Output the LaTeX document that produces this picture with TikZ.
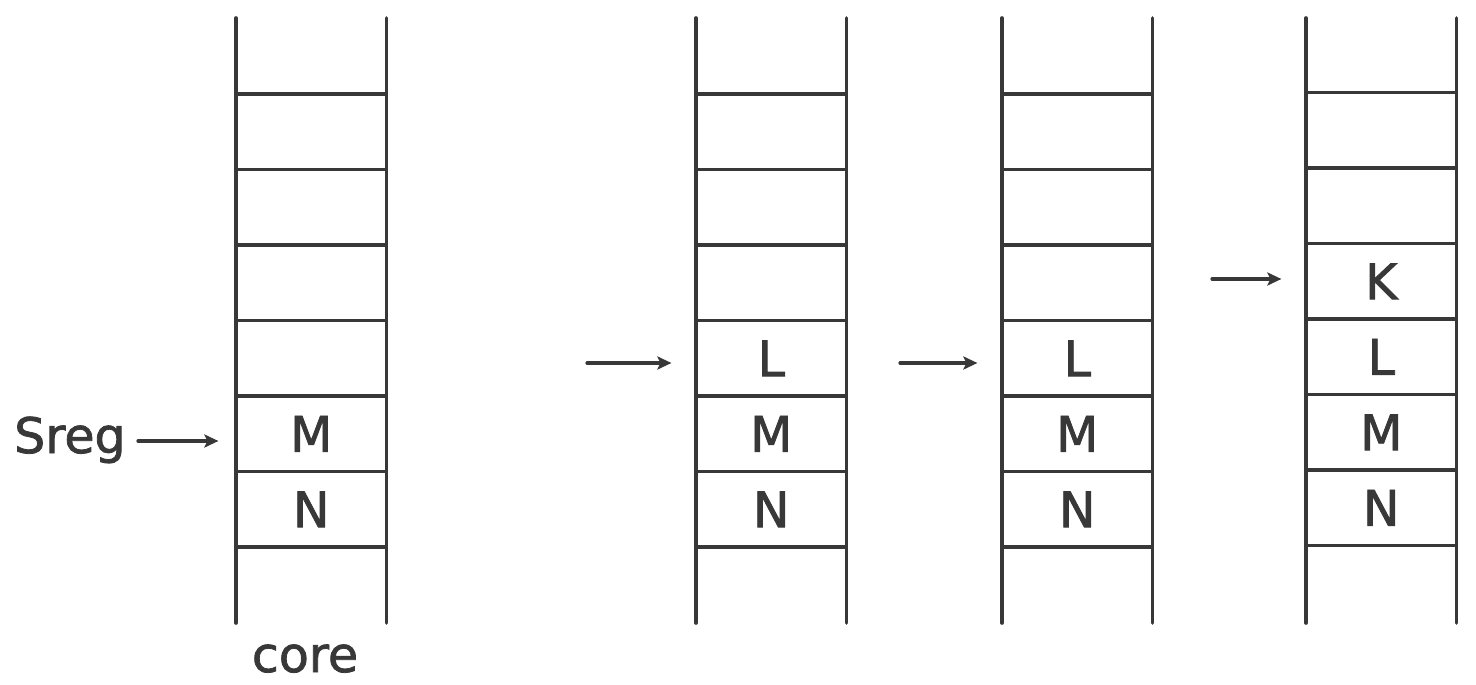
\documentclass[tikz,border=0pt]{standalone}
\usepackage{fontspec}
\setmainfont[FakeBold=1.6]{DejaVu Sans}
\usetikzlibrary{arrows.meta}
\definecolor{ink}{HTML}{383838}
\begin{document}
\begin{tikzpicture}[x=1pt,y=-1pt,
  rail/.style={draw=ink, line width=3.6pt, line cap=round},
  cellbox/.style={draw=ink, line width=3.2pt, minimum width=150.5pt, minimum height=75.5pt, inner sep=0pt},
  lbl/.style={text=ink, inner sep=0pt, font=\fontsize{49}{49}\selectfont},
  ptr/.style={draw=ink, line width=3.2pt, line cap=round, -{Stealth[length=14pt,width=13pt,inset=3pt]}}]
\useasboundingbox (0,0) rectangle (1476,685);
\fill[white] (0,0) rectangle (1476,685);
\foreach \s/\x/\dy in {1/236/0, 2/696/0, 3/1002/0, 4/1306/-1.5} {
  \draw[rail] (\x,18) -- (\x,623);
  \draw[rail] (\x+150.5,18) -- (\x+150.5,623);
  \foreach \r in {1,...,6} {
    \node[cellbox] (c\s-\r) at (\x+75.25, 94+\dy+\r*75.5-37.75) {};
  }
}
% contents
\node[lbl] (m1) at (c1-5.center) {M};
\node[lbl] (n1) at (c1-6.center) {N};
\node[lbl] (l2) at (c2-4.center) {L};
\node[lbl] (m2) at (c2-5.center) {M};
\node[lbl] (n2) at (c2-6.center) {N};
\node[lbl] (l3) at (c3-4.center) {L};
\node[lbl] (m3) at (c3-5.center) {M};
\node[lbl] (n3) at (c3-6.center) {N};
\node[lbl] (k4) at (c4-3.center) {K};
\node[lbl] (l4) at (c4-4.center) {L};
\node[lbl] (m4) at (c4-5.center) {M};
\node[lbl] (n4) at (c4-6.center) {N};
% labels
\node[lbl, anchor=base west] (sreg) at (14,453) {Sreg};
\node[lbl, anchor=base] (core) at (305,672) {core};
% pointers
\coordinate (p1) at (138,441);
\coordinate (p2) at (587,363);
\coordinate (p3) at (900,363);
\coordinate (p4) at (1212,279);
\draw[ptr, shorten >=16pt] (p1) -- (p1 -| c1-5.west);
\draw[ptr, shorten >=23pt] (p2) -- (p2 -| c2-4.west);
\draw[ptr, shorten >=23pt] (p3) -- (p3 -| c3-4.west);
\draw[ptr, shorten >=23pt] (p4) -- (p4 -| c4-3.west);
\end{tikzpicture}
\end{document}
